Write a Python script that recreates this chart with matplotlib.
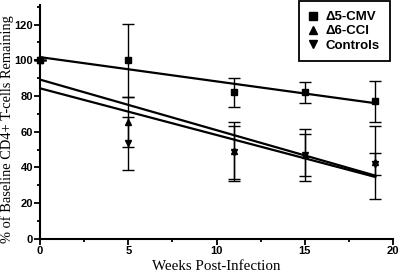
import numpy as np
import matplotlib
matplotlib.use("Agg")
import matplotlib.pyplot as plt
from matplotlib.ticker import MultipleLocator

weeks = [0, 5, 11, 15, 19]
cmv_vals = [100, 100, 82, 82, 77]
cmv_err = [0, 20.3, 8, 6, 11.5]
cci_vals = [100, 65.5, 49, 47, 43]
cci_err = [0, 14, 16.5, 14.5, 20.5]
ctl_vals = [100, 53.5, 48.5, 47, 42]
ctl_err = [0, 15, 15, 12, 6]
labels = ["\u03945-CMV", "\u03946-CCI", "Controls"]

fig = plt.figure(figsize=(4.0, 2.74), dpi=100)
ax = fig.add_axes([0.1, 0.128, 0.8825, 0.854])

series = [(cmv_vals, cmv_err, "s"), (cci_vals, cci_err, "^"), (ctl_vals, ctl_err, "v")]
handles = []
for (vals, err, mk), lab in zip(series, labels):
    ax.errorbar(weeks, vals, yerr=err, fmt=mk, color="black", ms=5,
                elinewidth=1.0, capsize=4.5, capthick=1.0, clip_on=False,
                zorder=3)
    slope, icpt = np.polyfit(weeks, vals, 1)
    xs = np.array([weeks[0], weeks[-1]])
    ax.plot(xs, icpt + slope * xs, color="black", lw=1.6, zorder=2)
    handles.append(ax.plot([], [], mk, color="black", ms=5.5, label=lab)[0])

ax.set_xlim(0, 20)
ax.set_ylim(0, 131)
ax.xaxis.set_major_locator(MultipleLocator(5))
ax.xaxis.set_minor_locator(MultipleLocator(2.5))
ax.yaxis.set_minor_locator(MultipleLocator(10))
ax.set_yticks([0, 20, 40, 60, 80, 100, 120])
for s in ["top", "right"]:
    ax.spines[s].set_visible(False)
for s in ["left", "bottom"]:
    ax.spines[s].set_linewidth(1.5)
ax.tick_params(which="major", length=4, width=1.3, direction="out", pad=1)
ax.tick_params(which="minor", length=2.5, width=1.3, direction="out")
for t in ax.get_xticklabels() + ax.get_yticklabels():
    t.set_fontfamily("Liberation Sans")
    t.set_fontweight("bold")
    t.set_fontsize(8)

ax.set_xlabel("Weeks Post-Infection", fontfamily="Liberation Serif", fontsize=10.8)
ax.xaxis.set_label_coords(0.5, -0.092)
ax.set_ylabel("% of Baseline CD4+ T-cells Remaining", fontfamily="Liberation Serif",
              fontsize=10.4)
ax.yaxis.set_label_coords(-0.074, 0.47)

leg = ax.legend(handles=handles, loc="upper right", bbox_to_anchor=(390 / 400, 1 - 1 / 274),
                bbox_transform=fig.transFigure,
                frameon=True, fancybox=False, edgecolor="black", framealpha=1,
                prop={"family": "Liberation Sans", "weight": "bold", "size": 9.5},
                handlelength=0.7, handletextpad=0.6, labelspacing=0.15,
                borderpad=0.75, borderaxespad=0.0)
leg.get_frame().set_linewidth(1.3)

fig.savefig("out.png", dpi=100)
